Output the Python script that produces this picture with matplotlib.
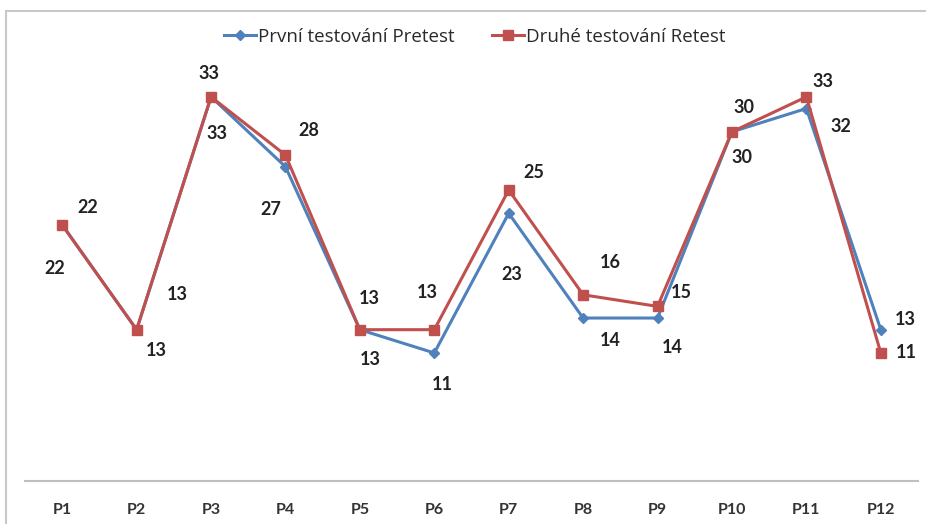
import matplotlib
matplotlib.use("Agg")
import matplotlib.pyplot as plt
from matplotlib.patches import Rectangle
from matplotlib.lines import Line2D

plt.rcParams['font.family'] = ['Lato', 'DejaVu Sans']

categories = ["P1", "P2", "P3", "P4", "P5", "P6", "P7", "P8", "P9", "P10", "P11", "P12"]
pretest = [22, 13, 33, 27, 13, 11, 23, 14, 14, 30, 32, 13]
retest = [22, 13, 33, 28, 13, 13, 25, 16, 15, 30, 33, 11]
series_names = ["První testování Pretest", "Druhé testování Retest"]

# label offsets in pixels (dx, dy) relative to each point
pre_offsets = [(-7, -44), (41, 35), (6, -37), (-15, -43), (10, -30), (8, -32),
               (3, -61), (27, -22), (15, -29), (10, -26), (35, -18), (25, 10)]
re_offsets = [(26, 17), (20, -21), (-2, 23), (23, 25), (9, 31), (-7, 37),
              (25, 18), (27, 32), (24, 14), (12, 24), (17, 15), (26, 0)]

BLUE = "#4F81BD"
RED = "#C0504D"

W, H = 926, 524
fig = plt.figure(figsize=(W / 100, H / 100), dpi=100)
fig.patch.set_facecolor("white")

# chart frame
fig.patches.append(Rectangle((6 / W, -0.1), 1.2, 1 - 11 / H + 0.1,
                             transform=fig.transFigure, fill=False,
                             edgecolor="#c8c8c8", linewidth=1.5))

left, right = 25 / W, 918 / W
bottom = (H - 481) / H
top = 1 - 15.4 / H
ax = fig.add_axes([left, bottom, right - left, top - bottom])
ax.set_facecolor("none")

x = list(range(len(categories)))
ax.plot(x, pretest, color=BLUE, linewidth=2.2, marker="D", markersize=5,
        markerfacecolor=BLUE, markeredgecolor=BLUE, zorder=3)
ax.plot(x, retest, color=RED, linewidth=2.2, marker="s", markersize=7.5,
        markerfacecolor=RED, markeredgecolor=RED, zorder=4)

label_style = dict(textcoords="offset pixels", ha="center", va="center",
                   fontsize=13, fontweight="bold", color="#222222")
for xi, v, (dx, dy) in zip(x, pretest, pre_offsets):
    ax.annotate(str(v), (xi, v), xytext=(dx, dy), **label_style)
for xi, v, (dx, dy) in zip(x, retest, re_offsets):
    ax.annotate(str(v), (xi, v), xytext=(dx, dy), **label_style)

ax.set_xlim(-0.5, len(categories) - 0.5)
ax.set_ylim(0, 40)
ax.set_xticks(x)
ax.set_xticklabels(categories, fontsize=11.5, fontweight="bold", color="#333333")
ax.tick_params(axis="x", length=0, pad=16)
ax.set_yticks([])
for side in ["top", "left", "right"]:
    ax.spines[side].set_visible(False)
ax.spines["bottom"].set_color("#BFBFBF")
ax.spines["bottom"].set_linewidth(1.5)

handles = [
    Line2D([], [], color=BLUE, linewidth=2.2, marker="D", markersize=5),
    Line2D([], [], color=RED, linewidth=2.2, marker="s", markersize=7.5),
]
fig.legend(handles, series_names, loc="center", bbox_to_anchor=(475 / W, 1 - 37 / H),
           ncol=2, frameon=False, handlelength=1.7, handletextpad=0.1,
           columnspacing=2.0, prop={"family": ["Open Sans", "DejaVu Sans"], "size": 13.5},
           labelcolor="#2a2a2a")

fig.savefig("out.png", dpi=100, facecolor="white")
